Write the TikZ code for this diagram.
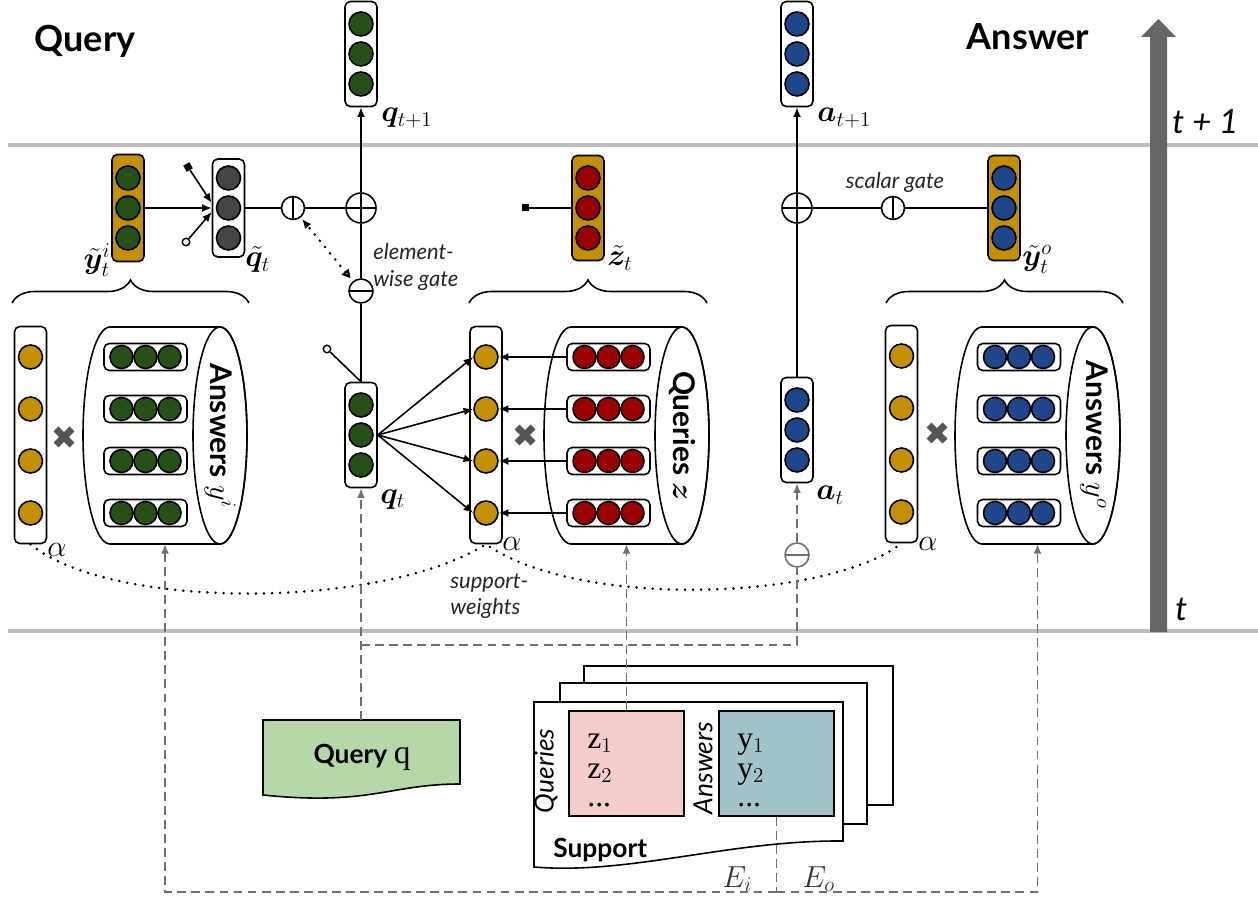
\documentclass[tikz,border=0pt]{standalone}
\usepackage{amsmath,bm}
\usepackage[no-math]{fontspec}
\setsansfont{Lato}
\newfontfamily\timesfont{Liberation Serif}
\usetikzlibrary{%
  arrows.meta,%
  decorations.pathreplacing%
}
\definecolor{qgreen}{RGB}{39,80,22}
\definecolor{ablue}{RGB}{30,70,137}
\definecolor{zred}{RGB}{155,0,0}
\definecolor{gold}{RGB}{194,144,0}
\definecolor{qgray}{RGB}{68,68,68}
\definecolor{xgray}{RGB}{85,85,85}
\definecolor{arrowgray}{RGB}{102,102,102}
\definecolor{linegray}{RGB}{190,190,190}
\definecolor{dgray}{RGB}{112,112,112}
\definecolor{docgreen}{RGB}{182,216,168}
\definecolor{qpink}{RGB}{244,204,204}
\definecolor{ateal}{RGB}{162,196,201}
\tikzset{>={Latex[length=5.5pt,width=4.5pt]}}
\tikzset{vecbox/.style = {draw, line width=0.9pt, rounded corners=3pt,
      minimum width=0.64cm, inner sep=0pt},
    unit/.style = {circle, draw, line width=0.9pt, minimum size=0.48cm, inner sep=0pt},
    rowbox/.style = {draw, fill=white, line width=0.9pt, rounded corners=3pt,
      minimum width=1.66cm, minimum height=0.54cm, inner sep=0pt},
    oplus/.style = {circle, draw, line width=0.9pt, minimum size=0.6cm, inner sep=0pt,
      path picture={\draw[line width=0.9pt] (path picture bounding box.north) -- (path picture bounding box.south)
        (path picture bounding box.west) -- (path picture bounding box.east);}},
    ominus/.style = {circle, draw, fill=white, line width=0.9pt, minimum size=0.48cm, inner sep=0pt,
      path picture={\draw[line width=0.9pt, #1] (path picture bounding box.west) -- (path picture bounding box.east);}},
    ominus/.default = black,
    vgate/.style = {circle, draw, line width=0.9pt, minimum size=0.46cm, inner sep=0pt,
      path picture={\draw[line width=0.9pt] (path picture bounding box.north) -- (path picture bounding box.south);}},
    brace/.style = {decorate, decoration={brace, amplitude=0.46cm}, line width=0.9pt},
    tline/.style = {draw=linegray, line width=2pt},
    gdash/.style = {draw=dgray, line width=1.1pt, dash pattern=on 5pt off 3pt},
    sdots/.style = {line width=1.6pt, line cap=round, dash pattern=on 0pt off 4.6pt},
    lbl/.style = {inner sep=0pt, font=\fontsize{17}{20}\selectfont},
    title/.style = {inner sep=0pt, font=\sffamily\bfseries\fontsize{20.5}{24}\selectfont},
    tlbl/.style = {inner sep=0pt, font=\sffamily\itshape\fontsize{19}{22}\selectfont},
    note/.style = {inner sep=0pt, align=left, text=black!85,
      font=\sffamily\itshape\fontsize{12.5}{15.3}\selectfont},
    memlbl/.style = {inner sep=0pt, font=\sffamily\bfseries\fontsize{17}{20}\selectfont},
    doclbl/.style = {inner sep=0pt, font=\sffamily\itshape\fontsize{15}{18}\selectfont},
    listtext/.style = {inner sep=0pt, font=\timesfont\fontsize{18}{18}\selectfont},
    sqmark/.style = {fill=black, minimum size=0.14cm, inner sep=0pt},
    ocmark/.style = {circle, draw, fill=white, line width=0.8pt, minimum size=0.15cm, inner sep=0pt}}

% vector of three units: name, x, y, box fill, unit fill, box height
\newcommand{\vecthree}[6]{%
  \node[vecbox, fill=#4, minimum height=#6] (#1) at (#2,#3) {};
  \foreach \c/\dy in {1/30,2/0,3/-30}
    \node[unit, fill=#5] (#1-\c) at ({#2},{#3+(\dy)}) {};
}
% attention vector with four units
\newcommand{\alphavec}[3]{%
  \node[vecbox, fill=white, minimum height=4.34cm] (#1) at (#2,#3) {};
  \foreach \c/\dy in {1/78,2/26,3/-26,4/-78}
    \node[unit, fill=gold] (#1-\c) at ({#2},{#3+(\dy)}) {};
}
% memory slot
\newcommand{\memrow}[4]{%
  \node[rowbox] (#1) at (#2,#3) {};
  \foreach \c/\dx in {1/-24,2/0,3/24}
    \node[unit, fill=#4, minimum size=0.46cm] (#1-\c) at ({#2+(\dx)},{#3}) {};
}
% memory cylinder: name, left centre, right centre
\newcommand{\memcyl}[3]{%
  \draw[line width=0.9pt, fill=white] (#3,-327) -- (#2,-327)
    arc[start angle=90, end angle=270, x radius=27, y radius=108.5] -- (#3,-544)
    arc[start angle=-90, end angle=90, x radius=27, y radius=108.5] -- cycle;
  \draw[line width=0.9pt] (#3,-435.5) ellipse[x radius=27, y radius=108.5];
  \coordinate (#1) at ({(#2+#3)/2},-544);
}
\newcommand{\timesmark}[2]{%
  \draw[xgray, line width=4pt] ({#1-8},{#2-8}) -- ({#1+8},{#2+8})
    ({#1-8},{#2+8}) -- ({#1+8},{#2-8});
}

\begin{document}
\begin{tikzpicture}[x=0.02cm,y=0.02cm]
  \useasboundingbox (0,0) rectangle (1258,-898);
  % time steps
  \draw[tline] (8,-145) -- (1258,-145);
  \draw[tline] (8,-631) -- (1258,-631);
  \node[title, anchor=base] (qtitle) at (85,-52) {Query};
  \node[title, anchor=base] (atitle) at (1028,-50) {Answer};

  % states at t+1
  \vecthree{qnext}{361}{-54}{white}{qgreen}{2.1cm}
  \vecthree{anext}{797}{-54}{white}{ablue}{2.1cm}
  \node[lbl, anchor=base west] (qnextlbl) at (381,-122) {$\bm{q}_{t+1}$};
  \node[lbl, anchor=base west] (anextlbl) at (817,-122) {$\bm{a}_{t+1}$};

  % read-outs
  \vecthree{ytildei}{128}{-208}{gold}{qgreen}{2.14cm}
  \vecthree{qtilde}{228.5}{-208}{white}{qgray}{1.96cm}
  \vecthree{ztilde}{588}{-208}{gold}{zred}{2.1cm}
  \vecthree{ytildeo}{1004}{-208}{gold}{ablue}{2.1cm}
  \node[lbl, anchor=base east] (ytildeilbl) at (111,-269) {$\tilde{\bm{y}}^i_t$};
  \node[lbl, anchor=base west] (qtildelbl) at (245,-267) {$\tilde{\bm{q}}_t$};
  \node[lbl, anchor=base west] (ztildelbl) at (607,-266) {$\tilde{\bm{z}}_t$};
  \node[lbl, anchor=base west] (ytildeolbl) at (1022,-266) {$\tilde{\bm{y}}^o_t$};

  \node[sqmark, rotate=30] (qtsq) at (188,-167) {};
  \node[ocmark] (qtoc) at (186,-242) {};
  \node[sqmark] (ztsq) at (525,-208) {};
  \draw[line width=0.9pt,->] (ytildei.east) -- (qtilde.west);
  \draw[line width=0.9pt,->] (qtsq) -- ([yshift=0.1cm]qtilde.west);
  \draw[line width=0.9pt,->] (qtoc) -- ([yshift=-0.08cm]qtilde.west);
  \draw[line width=0.9pt] (ztsq) -- (ztilde.west);

  % gates
  \node[oplus] (plusq) at (361,-208) {};
  \node[vgate] (gateq) at (293,-208) {};
  \node[ominus] (minusq) at (361,-291) {};
  \node[oplus] (plusa) at (797,-208) {};
  \node[vgate] (gatea) at (893,-208) {};
  \node[ominus=dgray, draw=dgray] (minusa) at (797,-555) {};
  \node[note, anchor=north west] (ewlbl) at (373,-243) {element-\\wise gate};
  \node[note, anchor=base] (sglbl) at (895,-189) {scalar gate};

  % states at t
  \vecthree{qt}{361}{-435}{white}{qgreen}{2.1cm}
  \vecthree{at}{797}{-430}{white}{ablue}{2.1cm}
  \node[lbl, anchor=base west] (qtlbl) at (380,-503) {$\bm{q}_t$};
  \node[lbl, anchor=base west] (atlbl) at (816,-500) {$\bm{a}_t$};
  \node[ocmark] (qtoc2) at (327,-349) {};

  \draw[line width=0.9pt] (qtilde.east) -- (gateq) -- (plusq);
  \draw[line width=0.9pt] (qt.north) -- (minusq) -- (plusq);
  \draw[line width=0.9pt,->] (plusq) -- (qnext);
  \draw[line width=0.9pt] (qtoc2) -- (qt.north);
  \draw[sdots, {Triangle[open,length=5pt,width=5pt]}-{Latex[length=5.5pt,width=4.5pt]},
    shorten <=2pt, shorten >=1pt] (minusq) -- (gateq);
  \draw[line width=0.9pt] (ytildeo.west) -- (gatea) -- (plusa);
  \draw[line width=0.9pt] (at.north) -- (plusa);
  \draw[line width=0.9pt,->] (plusa) -- (anext);

  % memories
  \memcyl{memA}{110}{220}
  \memcyl{memB}{571}{682}
  \memcyl{memC}{982}{1093}
  \foreach \k/\yy in {1/-357,2/-409,3/-461,4/-513} {
    \memrow{rowA\k}{145.5}{\yy}{qgreen}
    \memrow{rowB\k}{608.5}{\yy}{zred}
    \memrow{rowC\k}{1019}{\yy}{ablue}
  }
  \node[memlbl, rotate=-90] (memAname) at (220,-436) {Answers $y^i$};
  \node[memlbl, rotate=-90] (memBname) at (682,-436) {Queries $\bm{z}$};
  \node[memlbl, rotate=-90] (memCname) at (1094,-435) {Answers $y^o$};

  \alphavec{alphaA}{30.5}{-435}
  \alphavec{alphaB}{486}{-435}
  \alphavec{alphaC}{901.5}{-434}
  \node[lbl, anchor=base west] (alphaAlbl) at (47,-556) {$\alpha$};
  \node[lbl, anchor=base west] (alphaBlbl) at (502,-550) {$\alpha$};
  \node[lbl, anchor=base west] (alphaClbl) at (918,-550) {$\alpha$};
  \timesmark{64}{-437}
  \timesmark{525}{-435}
  \timesmark{937}{-433}

  \foreach \k in {1,...,4} {
    \draw[line width=0.9pt,->] (qt.east) -- (alphaB-\k.west);
    \draw[line width=0.9pt,->] (rowB\k.west) -- (alphaB-\k.east);
  }
  \draw[brace] (12,-303) -- (249,-303);
  \draw[brace] (469,-303) -- (707,-303);
  \draw[brace] (886,-303) -- (1123,-303);

  % support weights
  \draw[sdots] (alphaA.south) .. controls (110,-610) and (380,-610) .. (alphaB.south)
    .. controls (580,-610) and (830,-600) .. (alphaC.south);
  \node[note, anchor=north west] (swlbl) at (450,-573) {support-\\weights};

  % query document
  \draw[line width=0.9pt, fill=docgreen] (263,-720) -- (460,-720) -- (460,-784)
    .. controls (390,-784) and (370,-806) .. (263,-795) -- cycle;
  \node[inner sep=0pt, anchor=base] (querytext) at (362,-763)
    {\sffamily\bfseries\fontsize{15}{18}\selectfont Query \timesfont\mdseries\fontsize{19}{20}\selectfont q};
  \coordinate (qdoctop) at (361,-720);
  \coordinate (split) at (361,-645);

  % support set
  \draw[line width=0.9pt, fill=white] (584,-666) rectangle (893,-805);
  \draw[line width=0.9pt, fill=white] (560,-683) rectangle (867,-824);
  \draw[line width=0.9pt, fill=white] (534,-702) -- (843,-702) -- (843,-841)
    .. controls (730,-840) and (630,-875) .. (534,-867) -- cycle;
  \node[draw, line width=0.9pt, fill=qpink, minimum width=2.3cm, minimum height=2.1cm] (zbox) at (626.5,-763.5) {};
  \node[draw, line width=0.9pt, fill=ateal, minimum width=2.3cm, minimum height=2.1cm] (ybox) at (776.5,-763.5) {};
  \foreach \k/\yy in {1/-748,2/-778} {
    \node[listtext, anchor=base west] (zitem\k) at (587,\yy) {z$_\k$};
    \node[listtext, anchor=base west] (yitem\k) at (737,\yy) {y$_\k$};
  }
  \node[listtext, anchor=base west] (zdots) at (587,-806) {...};
  \node[listtext, anchor=base west] (ydots) at (737,-806) {...};
  \node[doclbl, rotate=90] (suppq) at (546,-771) {Queries};
  \node[doclbl, rotate=90] (suppa) at (703,-768) {Answers};
  \node[inner sep=0pt, anchor=base west, font=\sffamily\bfseries\fontsize{15}{18}\selectfont] (supplbl) at (553,-857) {Support};

  % embeddings
  \coordinate (ebot) at (776.5,-892);
  \draw[gdash,->] (qdoctop) -- (qt.south);
  \draw[gdash] (split) -| (minusa.south);
  \draw[gdash,->] (minusa) -- (at.south);
  \draw[gdash,->] (zbox.north) -- (memB);
  \draw[gdash] (ybox.south) -- (ebot);
  \draw[gdash,->] (ebot) -| (memA);
  \draw[gdash,->] (ebot) -| (memC);
  \node[lbl, anchor=base west, text=black!80] (eilbl) at (722,-887) {$E_i$};
  \node[lbl, anchor=base west, text=black!80] (eolbl) at (802,-887) {$E_o$};

  % time axis
  \fill[arrowgray] (1150,-632) -- (1150,-37) -- (1141,-37) -- (1158.5,-19)
    -- (1176,-37) -- (1167,-37) -- (1167,-632) -- cycle;
  \node[tlbl, anchor=base west] (tnext) at (1172,-134) {t + 1};
  \node[tlbl, anchor=base west] (tnow) at (1175,-620) {t};
\end{tikzpicture}
\end{document}
